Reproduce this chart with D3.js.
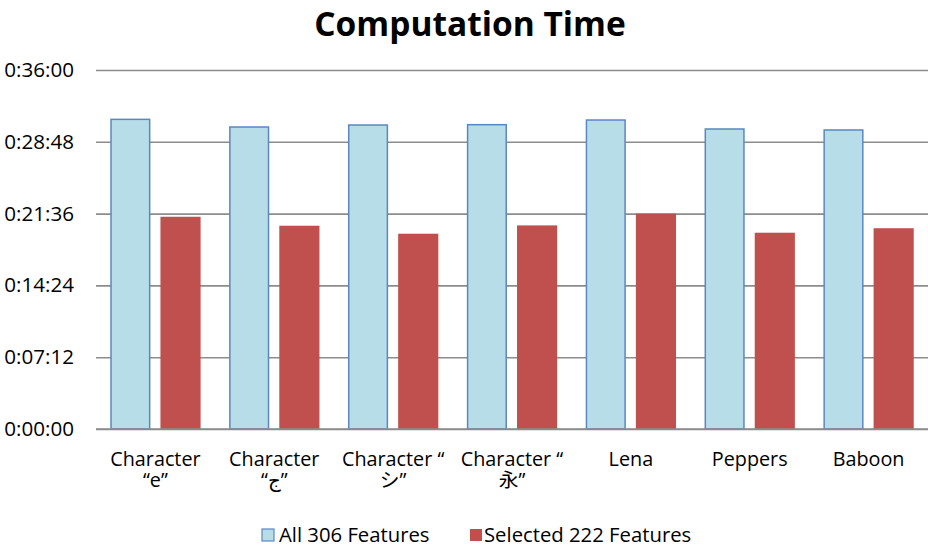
<!DOCTYPE html>
<html>
<head>
<meta charset="utf-8">
<script src="https://cdn.jsdelivr.net/npm/d3@7"></script>
<style>
  html, body { margin: 0; padding: 0; background: #fff; }
  svg { display: block; }
  text { font-family: "Open Sans", "Noto Sans CJK JP", "DejaVu Sans", sans-serif; fill: #000; }
</style>
</head>
<body>
<svg id="chart" width="928" height="547"></svg>
<script>
// Category keys and their (possibly two-line) axis labels
const categories = ["e", "ج", "シ", "永", "Lena", "Peppers", "Baboon"];
const categoryLines = [
  ["Character", "“e”"],
  ["Character", "“ج”"],
  ["Character “", "シ”"],
  ["Character “", "永”"],
  ["Lena"],
  ["Peppers"],
  ["Baboon"]
];
const seriesNames = ["All 306 Features", "Selected 222 Features"];
// Computation times in seconds
const all306 = [1863, 1817, 1829, 1831, 1859, 1805, 1799];
const selected222 = [1277, 1223, 1175, 1225, 1296, 1181, 1208];
// Axis ticks in seconds (every 7 min 12 s)
const tickValues = [0, 432, 864, 1296, 1728, 2160];

const colors = { fill: ["#b7dee8", "#c0504d"], stroke: ["#5b87c1", "none"] };

const svg = d3.select("#chart");
const margin = { left: 96, right: 0, top: 70, bottom: 118 };
const W = 928, H = 547;

const x0 = d3.scaleBand()
  .domain(categories)
  .range([margin.left, W - margin.right])
  .paddingInner(0.24)
  .paddingOuter(0.12);

const x1 = d3.scaleBand()
  .domain(seriesNames)
  .range([0, x0.bandwidth()])
  .paddingInner(0.2);

const y = d3.scaleLinear()
  .domain([0, 2160])
  .range([H - margin.bottom, margin.top]);

const fmt = s => {
  const h = Math.floor(s / 3600), m = Math.floor((s % 3600) / 60), sec = s % 60;
  return `${h}:${String(m).padStart(2, "0")}:${String(sec).padStart(2, "0")}`;
};

// Title
svg.append("text")
  .attr("x", 470).attr("y", 36)
  .attr("text-anchor", "middle")
  .style("font-size", "33.5px").style("font-weight", "bold")
  .text("Computation Time");

// Y axis with gridlines
const yAxis = svg.append("g")
  .attr("transform", `translate(${margin.left},0)`)
  .call(d3.axisLeft(y).tickValues(tickValues).tickFormat(fmt)
    .tickSize(-(W - margin.left - margin.right)).tickPadding(22));
yAxis.select(".domain").remove();
yAxis.selectAll(".tick line").attr("stroke", "#8c8c8c").attr("stroke-width", 1.6);
yAxis.selectAll(".tick text")
  .style("font-size", "20.6px").style("font-family", "'Open Sans', sans-serif")
  .attr("fill", "#000");

// Bars
const series = [all306, selected222];
const groups = svg.append("g").selectAll("g")
  .data(categories)
  .join("g")
  .attr("transform", d => `translate(${x0(d)},0)`);

groups.selectAll("rect")
  .data((d, i) => seriesNames.map((s, k) => ({ s, k, v: series[k][i] })))
  .join("rect")
  .attr("x", d => x1(d.s) + (d.k === 0 ? 0.75 : 0))
  .attr("width", d => x1.bandwidth() - (d.k === 0 ? 1.5 : 0))
  .attr("y", d => y(d.v))
  .attr("height", d => y(0) - y(d.v))
  .attr("fill", d => colors.fill[d.k])
  .attr("stroke", d => colors.stroke[d.k])
  .attr("stroke-width", 1.5);

// Baseline
svg.append("line")
  .attr("x1", margin.left).attr("x2", W)
  .attr("y1", y(0)).attr("y2", y(0))
  .attr("stroke", "#8c8c8c").attr("stroke-width", 1.6);

// X labels, one text element per line
const xl = svg.append("g");
categories.forEach((c, i) => {
  const cx = x0(c) + x0.bandwidth() / 2;
  categoryLines[i].forEach((line, j) => {
    xl.append("text")
      .attr("x", cx).attr("y", 466 + j * 21)
      .attr("text-anchor", "middle")
      .style("font-size", "19.8px")
      .text(line);
  });
});

// Legend
const legend = svg.append("g");
const legendItems = [
  { name: seriesNames[0], x: 262, tx: 279 },
  { name: seriesNames[1], x: 470, tx: 484 }
];
legendItems.forEach((d, k) => {
  legend.append("rect")
    .attr("x", d.x).attr("y", 529).attr("width", 12).attr("height", 12)
    .attr("fill", colors.fill[k])
    .attr("stroke", k === 0 ? colors.stroke[0] : "none").attr("stroke-width", 1.2);
  legend.append("text")
    .attr("x", d.tx).attr("y", 542)
    .style("font-size", "20.3px")
    .text(d.name);
});
</script>
</body>
</html>
